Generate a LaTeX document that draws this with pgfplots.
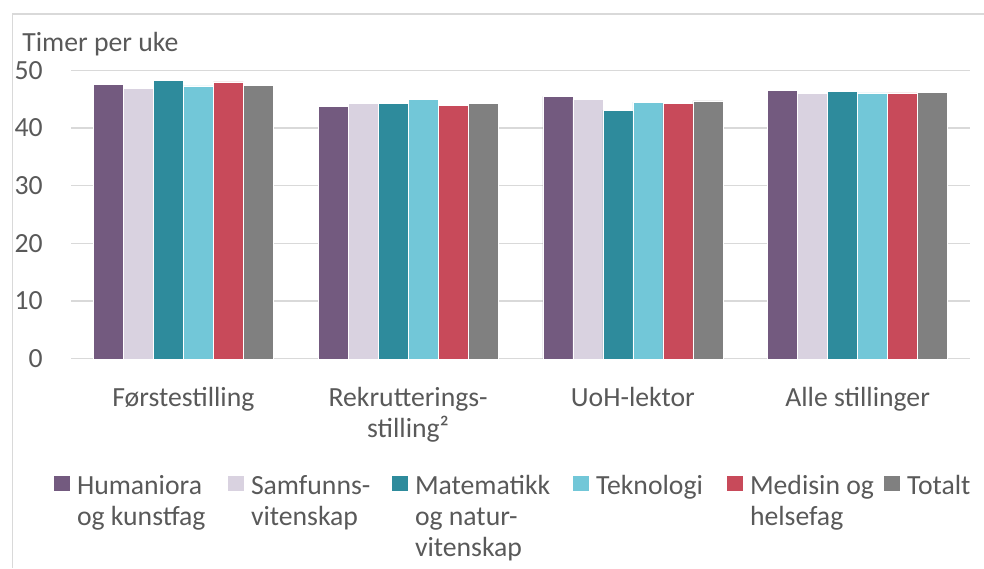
\documentclass[border=0pt]{standalone}
\usepackage{pgfplots}
\pgfplotsset{compat=1.18}
\usepackage{fontspec}
\setmainfont{Carlito}
\definecolor{hum}{HTML}{735A7F}
\definecolor{sam}{HTML}{D9D2E0}
\definecolor{mat}{HTML}{2E8B9C}
\definecolor{tek}{HTML}{72C7D8}
\definecolor{med}{HTML}{C84A5A}
\definecolor{tot}{HTML}{808080}
\definecolor{textgray}{HTML}{595959}
\definecolor{gridgray}{HTML}{D9D9D9}
\newcommand{\cfont}{\fontsize{13.85}{15.5}\selectfont}
\pgfplotsset{sq/.style={legend image code/.code={\path[##1,draw=none] (0pt,2pt) rectangle (8pt,9.5pt);}}}
\begin{document}
\cfont
\begin{tikzpicture}
\useasboundingbox (0,0) rectangle (492pt,284pt);
\draw[color=gridgray, line width=0.6pt] (6.25pt,0) -- (6.25pt,277pt) -- (492pt,277pt);
\begin{axis}[
  at={(35.5pt,104.6pt)}, anchor=south west,
  scale only axis, width=449.5pt, height=144.25pt,
  ybar=0pt, bar width=15pt,
  xmin=-0.5, xmax=3.5, ymin=0, ymax=50,
  xtick={0,1,2,3},
  xticklabels={Førstestilling,{Rekrutterings-\\stilling²},UoH-lektor,Alle stillinger},
  ytick={0,10,20,30,40,50},
  ymajorgrids, grid style={color=gridgray, line width=0.65pt},
  axis line style={draw=none},
  tick style={draw=none},
  /pgf/number format/assume math mode=true,
  tick label style={font=\cfont, text=textgray},
  yticklabel style={inner sep=0pt, xshift=-14pt},
  xticklabel style={inner sep=0pt, yshift=-10pt, align=center},
  title={Timer per uke},
  title style={at={(axis description cs:-0.0545,1.022)}, anchor=base west, yshift=0pt, inner sep=0pt, text=textgray, font=\cfont},
  legend columns=6,
  legend style={at={(axis description cs:-0.0189,-0.405)}, anchor=north west, draw=none, fill=none,
    inner sep=0pt, outer sep=0pt, row sep=0pt, column sep=0pt, font=\cfont, text=textgray,
    nodes={inner sep=0pt, outer sep=0pt},
    cells={anchor=base west},
    /tikz/every odd column/.append style={column sep=3.5pt}},
]
\addplot[sq, fill=hum, draw=white, line width=0.3pt] coordinates {(0,47.5) (1,43.7) (2,45.5) (3,46.5)};
\addlegendentry{\parbox[t]{75.5pt}{\raggedright Humaniora\\og kunstfag}}
\addplot[sq, fill=sam, draw=white, line width=0.3pt] coordinates {(0,46.8) (1,44.2) (2,44.9) (3,46.0)};
\addlegendentry{\parbox[t]{70.5pt}{\raggedright Samfunns-\\vitenskap}}
\addplot[sq, fill=mat, draw=white, line width=0.3pt] coordinates {(0,48.3) (1,44.2) (2,43.1) (3,46.3)};
\addlegendentry{\parbox[t]{79pt}{\raggedright Matematikk\\og natur-\\vitenskap}}
\addplot[sq, fill=tek, draw=white, line width=0.3pt] coordinates {(0,47.3) (1,44.9) (2,44.5) (3,46.1)};
\addlegendentry{\parbox[t]{65.5pt}{\raggedright Teknologi}}
\addplot[sq, fill=med, draw=white, line width=0.3pt] coordinates {(0,48.0) (1,43.9) (2,44.2) (3,46.1)};
\addlegendentry{\parbox[t]{67pt}{\raggedright Medisin og\\helsefag}}
\addplot[sq, fill=tot, draw=white, line width=0.3pt] coordinates {(0,47.4) (1,44.2) (2,44.7) (3,46.2)};
\addlegendentry{\parbox[t]{35pt}{\raggedright Totalt}}
\end{axis}
\end{tikzpicture}
\end{document}
